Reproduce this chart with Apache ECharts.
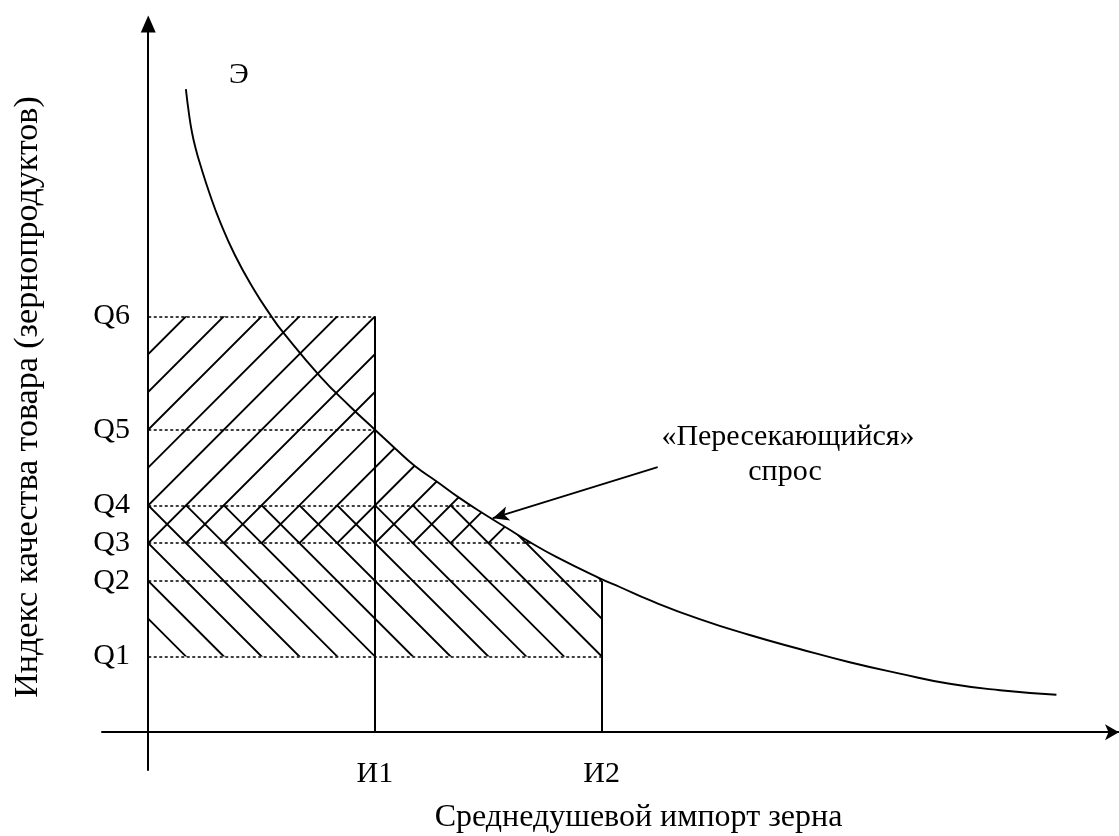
<!DOCTYPE html>
<html>
<head>
<meta charset="utf-8">
<script src="https://cdn.jsdelivr.net/npm/echarts@6/dist/echarts.min.js"></script>
<style>
  html, body { margin: 0; background: #fff; }
  #chart { width: 1119px; height: 836px; }
</style>
</head>
<body>
<div id="chart"></div>
<script>
// quality levels (y axis)
const qNames = ['Q1', 'Q2', 'Q3', 'Q4', 'Q5', 'Q6'];
const qValues = [2, 4, 5, 6, 8, 11];
// where each dotted level line stops (x)
const qEnds = [20, 20, 16.92, 14.22, 10, 10];

// import levels (x axis)
const iNames = ['И1', 'И2'];
const iValues = [10, 20];
// height of the vertical line at each import level
const iTops = [11, 4];

// demand curve Э
const curveX = [1.66, 1.80, 1.93, 2.10, 2.28, 2.72, 3.16, 3.82, 4.62, 5.45, 5.94, 7.57, 8.89, 10.0,
  10.88, 11.76, 12.77, 13.74, 14.76, 15.82, 16.83, 18.02, 19.92, 20.8, 22.12, 24.32, 26.53,
  28.73, 30.94, 33.15, 35.35, 37.57, 40.06];
const curveY = [17.01, 16.34, 15.86, 15.42, 15.04, 14.22, 13.51, 12.62, 11.75, 10.98, 10.58, 9.42, 8.62, 8.0,
  7.51, 7.04, 6.61, 6.19, 5.79, 5.4, 5.03, 4.63, 4.07, 3.84, 3.49, 2.99, 2.57,
  2.2, 1.85, 1.55, 1.28, 1.11, 0.99];

// hatched areas
const slashArea = [[0, 11], [10, 11], [10, 8.0], [10.88, 7.51], [11.76, 7.04], [12.77, 6.61],
  [13.74, 6.19], [14.76, 5.79], [15.82, 5.4], [16.92, 5], [0, 5]];
const backslashArea = [[0, 6], [14.22, 6], [14.76, 5.79], [15.82, 5.4], [16.83, 5.03],
  [18.02, 4.63], [19.92, 4.07], [20, 4.05], [20, 2], [0, 2]];

// arrow to the "crossing" demand
const arrowFrom = [22.47, 7.01];
const arrowTo = [15.2, 5.66];

const FONT = 'Liberation Serif';
const patterns = { slash: 'none', backslash: 'none' };

function areaSeries(id, pts, key) {
  return {
    id: id,
    type: 'custom',
    silent: true,
    z: 1,
    data: [[0, 0]],
    renderItem: function (params, api) {
      return {
        type: 'polygon',
        shape: { points: pts.map(p => api.coord(p)) },
        style: { fill: patterns[key], stroke: null }
      };
    }
  };
}

const textStyle = { fill: '#000', font: '30px "Liberation Serif"', align: 'center', verticalAlign: 'middle', textAlign: 'center', textVerticalAlign: 'middle' };

const option = {
  animation: false,
  backgroundColor: '#fff',
  grid: { left: 102, right: 0, top: 24, bottom: 66, outerBoundsMode: 'none' },
  xAxis: {
    type: 'value',
    min: -2.04,
    max: 42.82,
    splitLine: { show: false },
    axisTick: { show: false },
    axisLine: {
      onZero: true,
      symbol: ['none', 'arrow'],
      symbolSize: [12, 14],
      lineStyle: { color: '#000', width: 2 }
    },
    axisLabel: {
      customValues: iValues,
      formatter: v => iNames[iValues.indexOf(v)] || '',
      color: '#000',
      fontFamily: FONT,
      fontSize: 30,
      margin: -11
    },
    name: 'Среднедушевой импорт зерна',
    nameLocation: 'middle',
    nameGap: 32,
    nameTextStyle: { color: '#000', fontFamily: FONT, fontSize: 32, padding: [0, 0, 0, 56] }
  },
  yAxis: {
    type: 'value',
    min: -1,
    max: 18.73,
    splitLine: { show: false },
    axisTick: { show: false },
    axisLine: {
      onZero: true,
      symbol: ['none', 'triangle'],
      symbolSize: [15, 17],
      lineStyle: { color: '#000', width: 2 }
    },
    axisLabel: {
      customValues: qValues,
      formatter: v => qNames[qValues.indexOf(v)] || '',
      color: '#000',
      fontFamily: FONT,
      fontSize: 30,
      margin: -28
    },
    name: 'Индекс качества товара (зернопродуктов)',
    nameLocation: 'middle',
    nameRotate: 90,
    nameGap: 57,
    nameTextStyle: { color: '#000', fontFamily: FONT, fontSize: 34 }
  },
  graphic: [
    { type: 'text', x: 239, y: 75, style: Object.assign({ text: 'Э' }, textStyle) },
    { type: 'text', x: 788, y: 437, style: Object.assign({ text: '«Пересекающийся»' }, textStyle) },
    { type: 'text', x: 785, y: 472, style: Object.assign({ text: 'спрос' }, textStyle) }
  ],
  series: [
    areaSeries('slash', slashArea, 'slash'),
    areaSeries('backslash', backslashArea, 'backslash'),
    {
      type: 'line',
      z: 3,
      data: [],
      silent: true,
      markLine: {
        silent: true,
        symbol: 'none',
        label: { show: false },
        lineStyle: { color: '#000', width: 1.7, type: [3, 2.5] },
        data: qValues.map((q, i) => [{ coord: [0, q] }, { coord: [qEnds[i], q] }])
      }
    },
    {
      type: 'line',
      z: 4,
      data: [],
      silent: true,
      markLine: {
        silent: true,
        symbol: 'none',
        label: { show: false },
        lineStyle: { color: '#000', width: 2, type: 'solid' },
        data: iValues.map((v, i) => [{ coord: [v, 0] }, { coord: [v, iTops[i]] }])
      }
    },
    {
      type: 'line',
      z: 5,
      data: [],
      silent: true,
      markLine: {
        silent: true,
        symbol: ['none', 'arrow'],
        symbolSize: [11, 16],
        label: { show: false },
        lineStyle: { color: '#000', width: 1.9, type: 'solid' },
        data: [[{ coord: arrowFrom }, { coord: arrowTo }]]
      }
    },
    {
      name: 'Э',
      type: 'line',
      z: 6,
      smooth: 0.5,
      showSymbol: false,
      silent: true,
      lineStyle: { color: '#000', width: 1.9 },
      data: curveX.map((x, i) => [x, curveY[i]])
    }
  ]
};

const chart = echarts.init(document.getElementById('chart'));
chart.setOption(option);

// hatch tiles aligned with the level grid
const p0 = chart.convertToPixel({ gridIndex: 0 }, [0, 0]);
const p1 = chart.convertToPixel({ gridIndex: 0 }, [0, 1]);
const step = p0[1] - p1[1];
const T = Math.round(step * 5);
const per = T / 5;

function makeTile(slash, c) {
  const cv = document.createElement('canvas');
  cv.width = T; cv.height = T;
  const ctx = cv.getContext('2d');
  ctx.strokeStyle = '#000';
  ctx.lineWidth = 1.9;
  const off = ((c % per) + per) % per;
  ctx.beginPath();
  for (let k = -7; k <= 12; k++) {
    const s = off + k * per;
    if (slash) {
      ctx.moveTo(s + 10, -10);
      ctx.lineTo(-10, s + 10);
    } else {
      ctx.moveTo(-10, -10 - s);
      ctx.lineTo(T + 10, T + 10 - s);
    }
  }
  ctx.stroke();
  return { image: cv, repeat: 'repeat' };
}

const a = chart.convertToPixel({ gridIndex: 0 }, [0, qValues[4]]);
const b = chart.convertToPixel({ gridIndex: 0 }, [0, qValues[3]]);
patterns.slash = makeTile(true, a[0] + a[1]);
patterns.backslash = makeTile(false, a[0] - b[1]);
chart.setOption(option, true);
</script>
</body>
</html>
